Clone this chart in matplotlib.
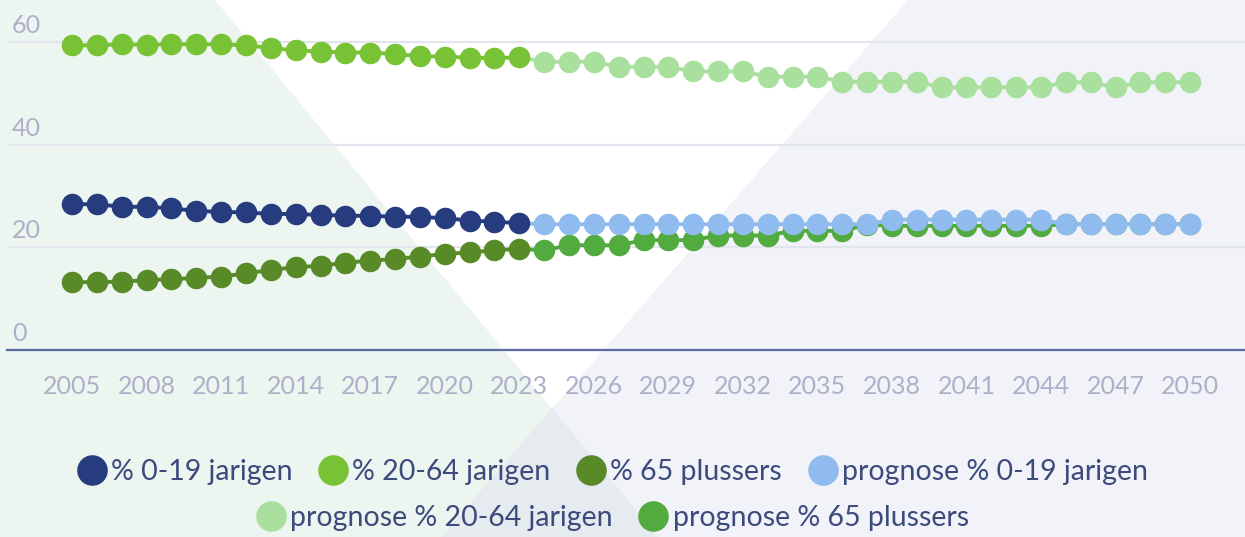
import matplotlib.pyplot as plt
from matplotlib.patches import Polygon
from matplotlib.lines import Line2D

# historische cijfers 2005-2023
jaren = list(range(2005, 2024))
jong = [28.4, 28.4, 27.9, 27.9, 27.6, 27.1, 26.9, 26.8, 26.5, 26.5, 26.3,
        26.2, 26.1, 26.0, 25.9, 25.7, 25.2, 25.0, 24.7]
werk = [59.4, 59.4, 59.6, 59.5, 59.6, 59.6, 59.6, 59.4, 58.9, 58.4, 58.2,
        58.0, 58.0, 57.7, 57.3, 57.2, 57.0, 56.9, 57.1]
oud = [13.2, 13.2, 13.3, 13.6, 13.8, 14.0, 14.3, 14.9, 15.6, 16.1, 16.4,
       17.0, 17.4, 17.7, 18.2, 18.7, 19.0, 19.4, 19.7]

# prognose 2023-2050 (2023 alleen als aansluitpunt)
jaren_prog = list(range(2023, 2051))
prog_jong = [24.7] + [24.5] * 14 + [25.4] * 7 + [24.5] * 6
prog_werk = ([57.1] + [56.2] * 3 + [55.2] * 3 + [54.3] * 3 + [53.3] * 3
             + [52.3] * 4 + [51.2] * 5 + [52.2] * 2 + [51.2] + [52.2] * 3)
prog_oud = ([19.7, 19.4] + [20.4] * 3 + [21.4] * 3 + [22.3] * 3
            + [23.2] * 3 + [24.4] + [24.2] * 7 + [24.5] * 6)

labels = ['% 0-19 jarigen', '% 20-64 jarigen', '% 65 plussers',
          'prognose % 0-19 jarigen', 'prognose % 20-64 jarigen',
          'prognose % 65 plussers']
kleuren = ['#263c7e', '#78c236', '#588a28', '#8fbbee', '#a9e09e', '#52ab3e']
xticks = list(range(2005, 2051, 3))
yticks = [0, 20, 40, 60]

W, H = 1245, 537
plt.rcParams['font.family'] = ['Lato', 'DejaVu Sans']
fig = plt.figure(figsize=(W / 100, H / 100), dpi=100)
fig.patch.set_facecolor('white')


def px(pts):
    """pixel coords (top-left origin) to figure fractions"""
    return [(x / W, 1 - y / H) for x, y in pts]


# achtergrond vlakken
fig.patches.append(Polygon(px([(0, 0), (215, 0), (658, 537), (0, 537)]),
                           closed=True, transform=fig.transFigure,
                           facecolor='#edf5f0', edgecolor='none', zorder=-10))
fig.patches.append(Polygon(px([(908, 0), (1245, 0), (1245, 537), (441, 537)]),
                           closed=True, transform=fig.transFigure,
                           facecolor='#f1f3f8', edgecolor='none', zorder=-10))
fig.patches.append(Polygon(px([(552, 408), (658, 537), (441, 537)]),
                           closed=True, transform=fig.transFigure,
                           facecolor='#e5ebee', edgecolor='none', zorder=-9))

ax = fig.add_axes([7 / W, 1 - 349.8 / H, 1 - 7 / W, 349.8 / H])
ax.set_facecolor('none')
ax.set_zorder(1)

ms = 14.5
lw = 2.8
# prognoses eerst, historisch eroverheen
ax.plot(jaren_prog, prog_werk, color=kleuren[4], lw=lw, marker='o', ms=ms,
        markevery=slice(1, None), zorder=2)
ax.plot(jaren_prog, prog_oud, color=kleuren[5], lw=lw, marker='o', ms=ms,
        markevery=slice(1, None), zorder=2.1)
ax.plot(jaren_prog, prog_jong, color=kleuren[3], lw=lw, marker='o', ms=ms,
        markevery=slice(1, None), zorder=2.2)
ax.plot(jaren, jong, color=kleuren[0], lw=lw, marker='o', ms=ms, zorder=3)
ax.plot(jaren, werk, color=kleuren[1], lw=lw, marker='o', ms=ms, zorder=3)
ax.plot(jaren, oud, color=kleuren[2], lw=lw, marker='o', ms=ms, zorder=3)

ax.set_xlim(2002.38, 2052.21)
ax.set_ylim(0, 68.25)
ax.set_xticks(xticks)
ax.set_xticklabels([str(j) for j in xticks])
ax.set_yticks(yticks)
ax.set_yticklabels([])
ax.tick_params(axis='both', length=0)
ax.tick_params(axis='x', pad=18, labelsize=18, labelcolor='#adb0c8')
ax.yaxis.grid(True, color='#e3e5ee', lw=1.5)
ax.set_axisbelow(True)
for s in ['top', 'left', 'right']:
    ax.spines[s].set_visible(False)
ax.spines['bottom'].set_color('#5a6aa5')
ax.spines['bottom'].set_linewidth(1.6)
ax.spines['bottom'].set_zorder(4)

for v in yticks:
    ax.text(0.004, v + 1.8, str(v), transform=ax.get_yaxis_transform(),
            ha='left', va='baseline', fontsize=18, color='#adb0c8')

# legenda in twee rijen
handles = [Line2D([], [], ls='none', marker='o', ms=21, color=c)
           for c in kleuren]
for rij, y in [(slice(0, 4), 472), (slice(4, 6), 518)]:
    fig.legend(handles[rij], labels[rij], loc='center',
               bbox_to_anchor=(0.493, 1 - y / H), ncol=4, frameon=False,
               fontsize=20.5, handlelength=0.85, handletextpad=0.25,
               columnspacing=1.0, labelcolor='#3c4a7c', borderpad=0)

fig.savefig('out.png', dpi=100)
